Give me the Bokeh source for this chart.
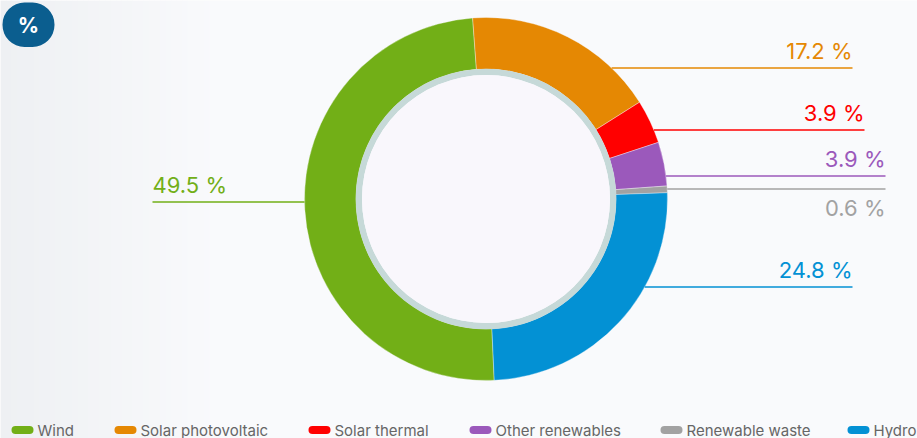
import math
from bokeh.plotting import figure
from bokeh.models import Range1d, BoxAnnotation, Label
from bokeh.core.properties import value
from bokeh.embed import file_html
from bokeh.resources import INLINE

# ---- data ----
categories = ["Wind", "Solar photovoltaic", "Solar thermal", "Other renewables", "Renewable waste", "Hydro"]
shares = [49.5, 17.2, 3.9, 3.9, 0.6, 24.8]
label_texts = ["49.5 %", "17.2 %", "3.9 %", "3.9 %", "0.6 %", "24.8 %"]
colors = ["#72AF17", "#E58803", "#FF0000", "#9B59BB", "#A2A2A2", "#0391D4"]

# ---- layout (pixel space, origin top-left) ----
W, H = 917, 438
CX, CY = 485.5, 198.5
R_OUT, R_IN, R_HOLE = 181.5, 130.0, 124.0
START_CW = 177.4  # first slice start, degrees clockwise from top
label_y = [201.5, 67.5, 129.5, 175.5, 188.5, 286.5]
label_x = [152, 852, 864, 885, 885, 852]
label_side = ["left", "right", "right", "right", "right", "right"]
label_pos = ["above", "above", "above", "above", "below", "above"]

FONT = "Inter"

def Y(y):
    return H - y

p = figure(width=W, height=H, output_backend="svg", toolbar_location=None,
           x_range=Range1d(0, W), y_range=Range1d(0, H), min_border=0,
           background_fill_color="#f9fafc", border_fill_color="#f9fafc",
           outline_line_color=None)
p.axis.visible = False
p.grid.visible = False

# background left gradient
n = 40
gx0, gx1 = 0.0, 220.0
c0 = (0xEE, 0xF0, 0xF3)
c1 = (0xF9, 0xFA, 0xFC)
lefts, rights, fills = [], [], []
for i in range(n):
    t = i / (n - 1)
    c = tuple(int(round(c0[k] + (c1[k] - c0[k]) * t)) for k in range(3))
    lefts.append(gx0 + (gx1 - gx0) * i / n)
    rights.append(gx0 + (gx1 - gx0) * (i + 1) / n + 0.5)
    fills.append("#%02x%02x%02x" % c)
p.quad(left=lefts, right=rights, bottom=0, top=H, fill_color=fills, line_color=None)

# donut slices
total = sum(shares)
starts, ends = [], []
acc = START_CW
for s in shares:
    a0 = acc
    a1 = acc + s / total * 360.0
    acc = a1
    starts.append(math.radians(90 - a1))
    ends.append(math.radians(90 - a0))
p.annular_wedge(x=CX, y=Y(CY), inner_radius=R_IN, outer_radius=R_OUT,
                start_angle=starts, end_angle=ends, direction="anticlock",
                fill_color=colors, line_color="#f9fafc", line_width=0.6, line_alpha=0.6)

# inner ring + hole
p.annulus(x=CX, y=Y(CY), inner_radius=R_HOLE, outer_radius=R_IN + 0.3,
          fill_color="#C6D9D8", line_color=None)
p.circle(x=CX, y=Y(CY), radius=R_HOLE, fill_color="#F9F7FC", line_color=None)

# label lines and texts
for i, cat in enumerate(categories):
    ly = label_y[i]
    dy = ly - CY
    dx = math.sqrt(max(R_OUT ** 2 - dy ** 2, 0))
    if label_side[i] == "right":
        x_start = CX + dx
        p.segment(x0=[x_start], y0=[Y(ly)], x1=[label_x[i]], y1=[Y(ly)],
                  line_color=colors[i], line_width=1.4)
        align = "right"
    else:
        x_start = CX - dx
        p.segment(x0=[label_x[i]], y0=[Y(ly)], x1=[x_start], y1=[Y(ly)],
                  line_color=colors[i], line_width=1.4)
        align = "left"
    if label_pos[i] == "above":
        ty, base = Y(ly) + 4.5, "bottom"
    else:
        ty, base = Y(ly) - 6, "top"
    p.text(x=[label_x[i]], y=[ty], text=[label_texts[i]], text_color=colors[i],
           text_font=value(FONT), text_font_size="22px", text_align=align,
           text_baseline=base)

# badge
p.add_layout(BoxAnnotation(left=2, right=54, top=Y(2), bottom=Y(46.5),
                           fill_color="#0B5E8F", fill_alpha=1.0, line_color=None,
                           border_radius=22))
p.add_layout(Label(x=28, y=Y(24.5), text="%", text_color="white", text_font=FONT,
                   text_font_size="21px", text_font_style="bold", text_align="center",
                   text_baseline="middle"))

# legend
leg_x = [11, 114, 308, 469, 660, 847]
leg_y = 429.5
for i, cat in enumerate(categories):
    p.segment(x0=[leg_x[i] + 4], y0=[Y(leg_y)], x1=[leg_x[i] + 18], y1=[Y(leg_y)],
              line_color=colors[i], line_width=8, line_cap="round")
    p.text(x=[leg_x[i] + 26], y=[Y(leg_y)], text=[cat], text_color="#666666",
           text_font=value(FONT), text_font_size="15px", text_align="left",
           text_baseline="middle")

open("out.html", "w").write(file_html(p, INLINE))
